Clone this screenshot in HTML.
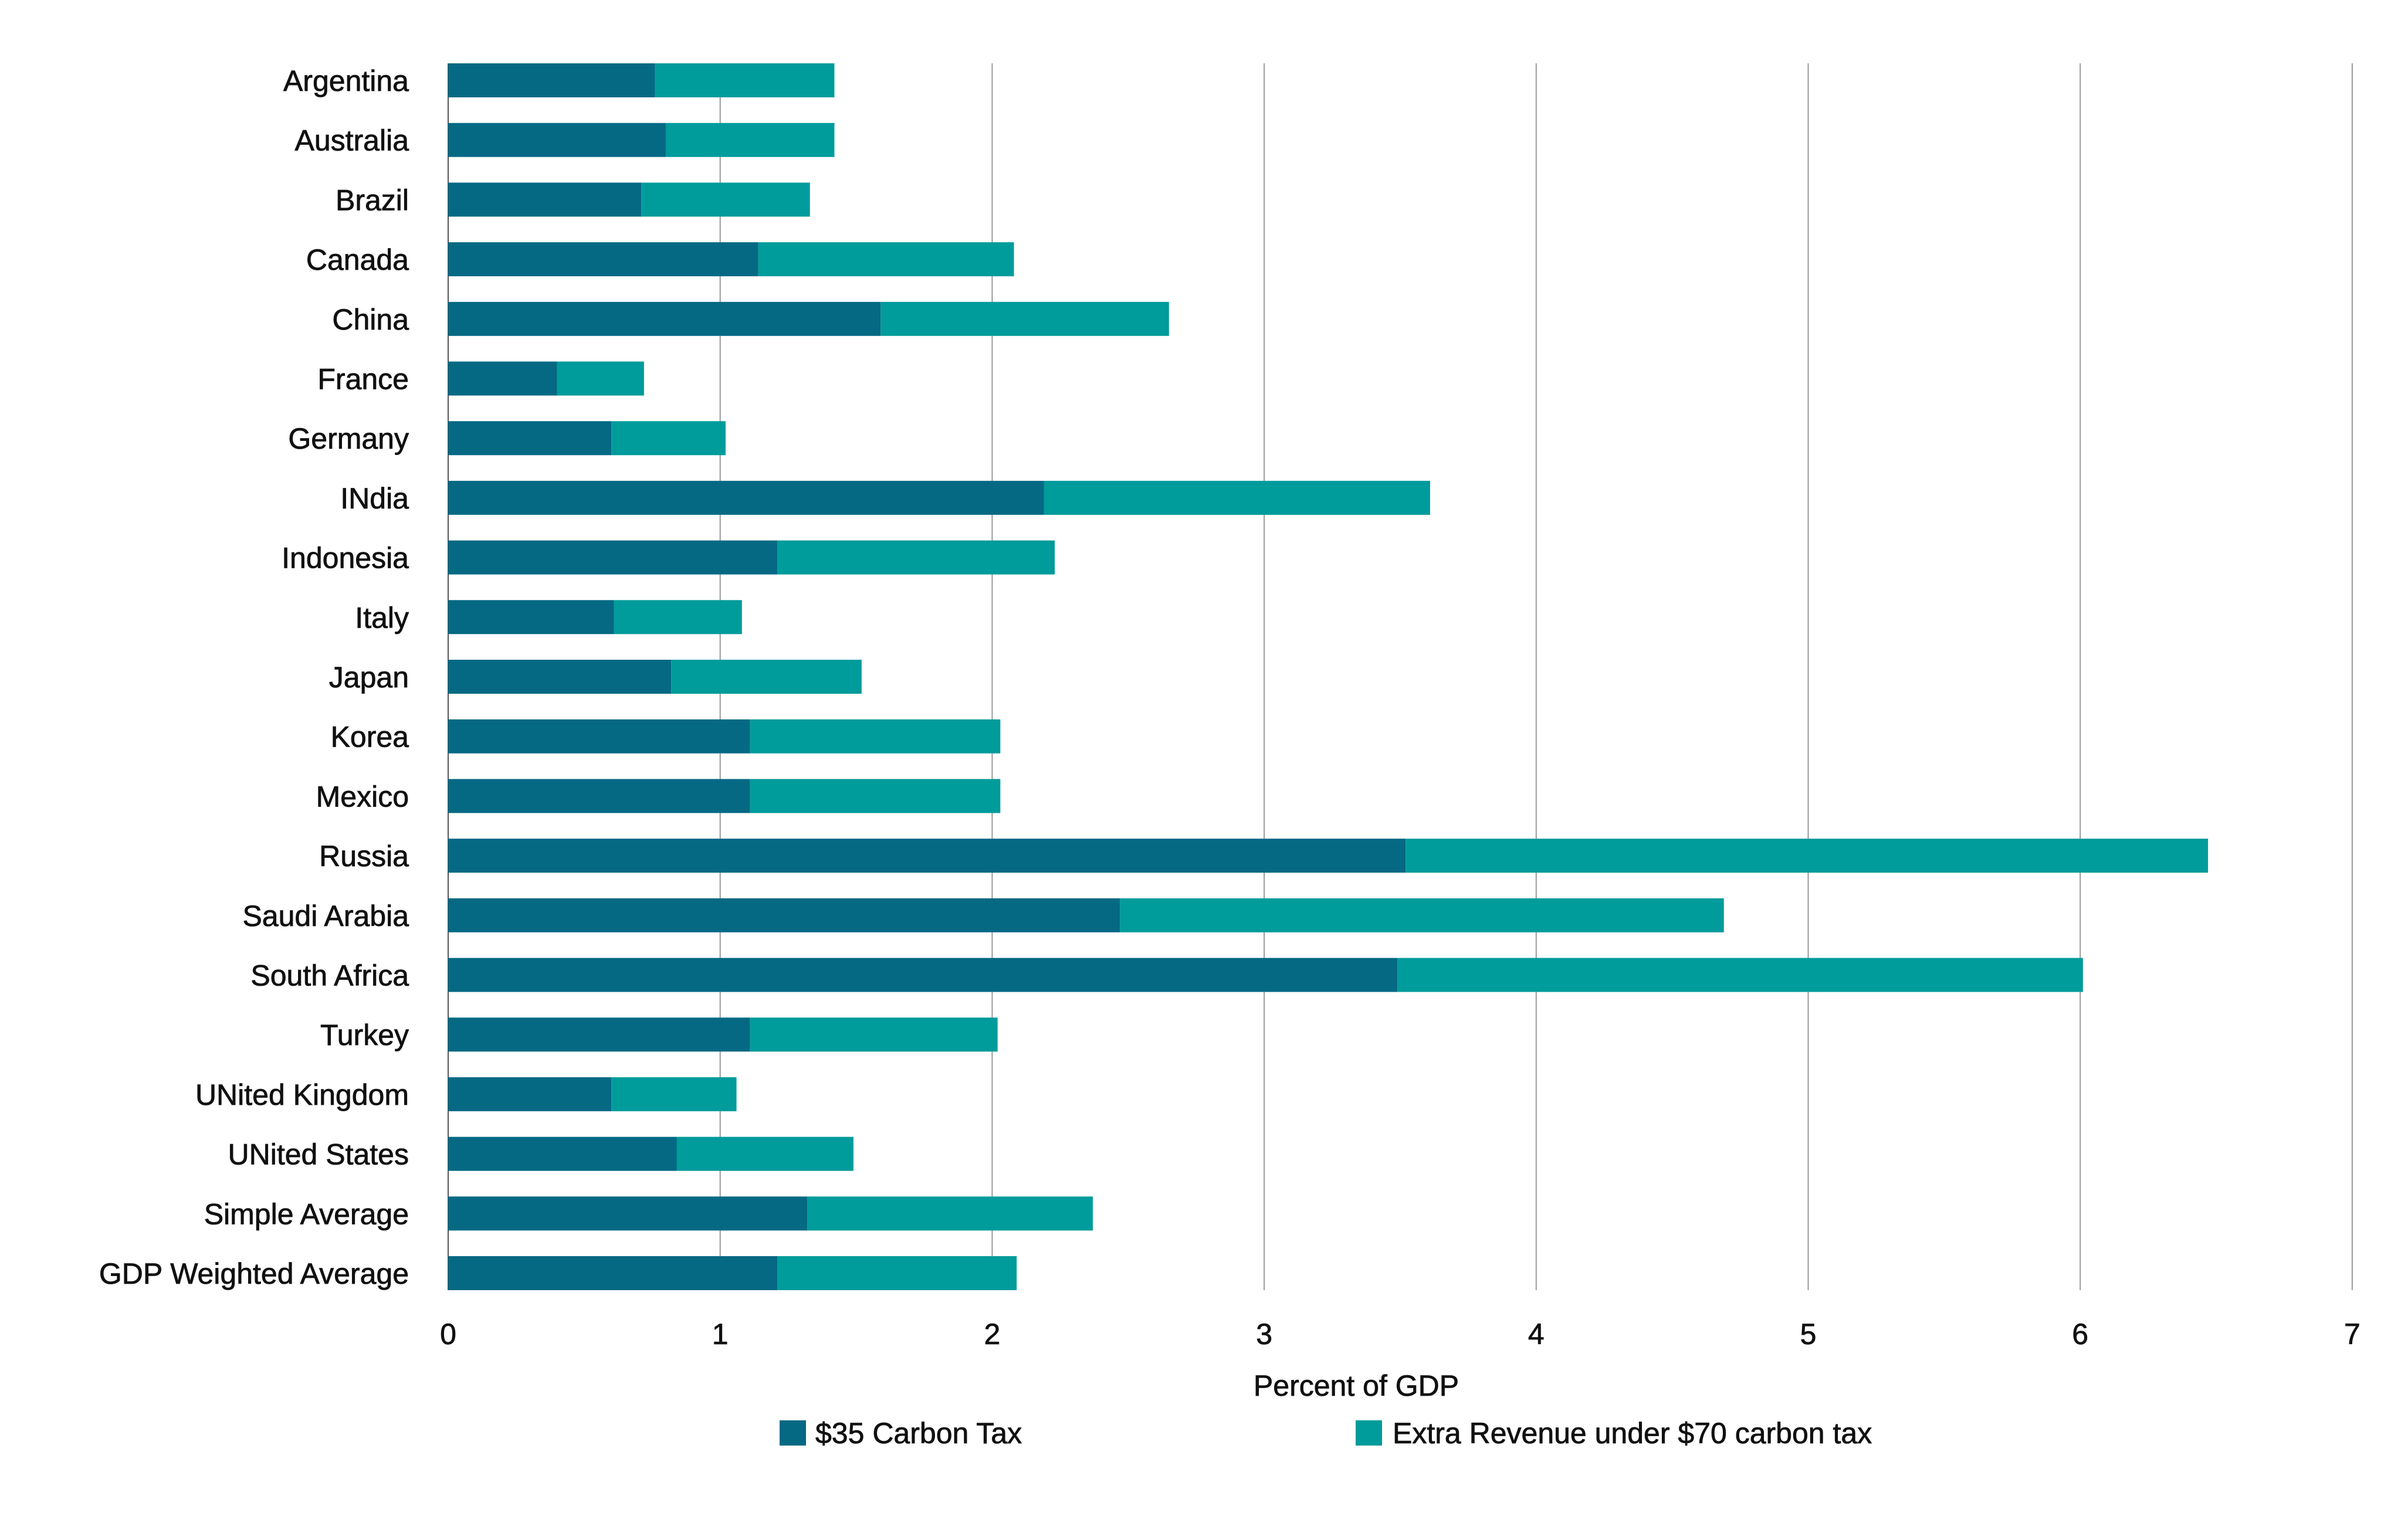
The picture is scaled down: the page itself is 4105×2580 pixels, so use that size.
<!DOCTYPE html>
<html><head><meta charset="utf-8"><style>
html,body{margin:0;padding:0;background:#fff}
svg text{font-family:"Liberation Sans",sans-serif;fill:#111;stroke:#111;stroke-width:0.8}
</style></head><body>
<svg id="chart" width="4105" height="2575" viewBox="0 0 4105 2575" xmlns="http://www.w3.org/2000/svg">
<g id="grid"></g>
<g id="bars"></g>
<g id="ylabels"></g>
<g id="xlabels"></g>
<text x="2312" y="2380" font-size="50" text-anchor="middle">Percent of GDP</text>
<g>
<rect x="1329" y="2422" width="45" height="43" fill="#056984"/>
<text x="1390" y="2461" font-size="50">$35 Carbon Tax</text>
<rect x="2311" y="2422" width="45" height="43" fill="#009b9b"/>
<text x="2374" y="2461" font-size="50">Extra Revenue under $70 carbon tax</text>
</g>
</svg>
<script>
const categories=["Argentina","Australia","Brazil","Canada","China","France","Germany","INdia","Indonesia","Italy","Japan","Korea","Mexico","Russia","Saudi Arabia","South Africa","Turkey","UNited Kingdom","UNited States","Simple Average","GDP Weighted Average"];
const tax35=[0.76,0.80,0.71,1.14,1.59,0.40,0.60,2.19,1.21,0.61,0.82,1.11,1.11,3.52,2.47,3.49,1.11,0.60,0.84,1.32,1.21];
const extra70=[0.66,0.62,0.62,0.94,1.06,0.32,0.42,1.42,1.02,0.47,0.70,0.92,0.92,2.95,2.22,2.52,0.91,0.46,0.65,1.05,0.88];
const xTicks=[0,1,2,3,4,5,6,7];
const NS="http://www.w3.org/2000/svg";
const x0=764,unit=463.7,yTop=108,yBot=2200,row0=137,rowStep=101.7,barH=58;
function xs(v){return x0+v*unit;}
function ys(i){return row0+i*rowStep;}
function mk(t,a,p){const e=document.createElementNS(NS,t);for(const k in a)e.setAttribute(k,a[k]);p.appendChild(e);return e;}
const grid=document.getElementById('grid'),bars=document.getElementById('bars'),yl=document.getElementById('ylabels'),xl=document.getElementById('xlabels');
xTicks.forEach(t=>{
  const l=mk('line',{x1:xs(t),x2:xs(t),y1:yTop,y2:yBot,stroke:t===0?'#555':'#999','stroke-width':2},grid);
  
  
  const tx=mk('text',{x:xs(t),y:2292,'font-size':50,'text-anchor':'middle'},xl);
  tx.textContent=t;
  
  
});
categories.forEach((c,i)=>{
  const cy=ys(i);
  const a=mk('rect',{x:xs(0),y:cy-barH/2,width:xs(tax35[i])-xs(0),height:barH,fill:'#056984'},bars);
  
  
  const b=mk('rect',{x:xs(tax35[i]),y:cy-barH/2,width:xs(tax35[i]+extra70[i])-xs(tax35[i]),height:barH,fill:'#009b9b'},bars);
  
  
  const t=mk('text',{x:697,y:cy+18,'font-size':50,'text-anchor':'end'},yl);
  t.textContent=c;
  
  
});
</script>
</body></html>
